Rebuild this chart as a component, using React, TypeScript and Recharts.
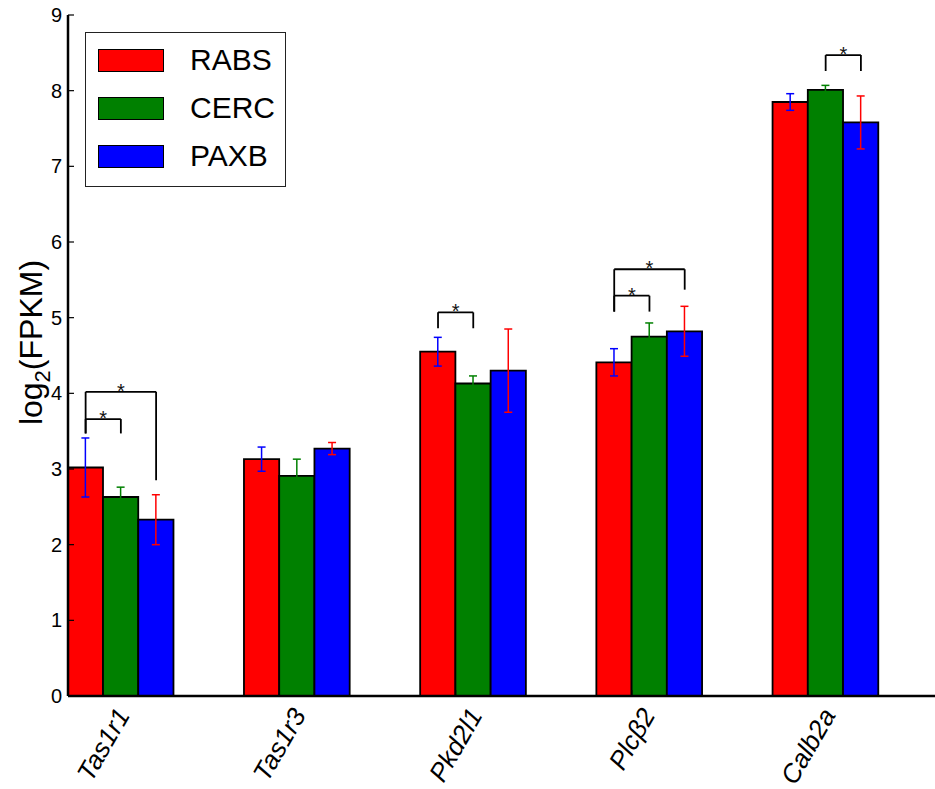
import {
  ComposedChart,
  Bar,
  ErrorBar,
  XAxis,
  YAxis,
  Legend,
  ReferenceLine,
  ReferenceDot,
} from 'recharts';

// log2(FPKM) per gene, mean and error for each population
const genes = ['Tas1r1', 'Tas1r3', 'Pkd2l1', 'Plcβ2', 'Calb2a'];
const rabs = [3.02, 3.13, 4.55, 4.41, 7.85];
const rabsErr = [0.39, 0.16, 0.19, 0.18, 0.11];
const cerc = [2.63, 2.91, 4.13, 4.75, 8.01];
const cercErr = [0.13, 0.22, 0.1, 0.18, 0.06];
const paxb = [2.33, 3.27, 4.3, 4.82, 7.58];
const paxbErr = [0.33, 0.08, 0.55, 0.33, 0.35];
const yTicks = [0, 1, 2, 3, 4, 5, 6, 7, 8, 9];

const seriesNames = ['RABS', 'CERC', 'PAXB'];
const seriesFills = ['#ff0000', '#008000', '#0000ff'];

// significance brackets: gene, series pair, bracket top and leg ends
const bracketGene = [0, 0, 2, 3, 3, 4];
const bracketFrom = [0, 0, 0, 0, 0, 1];
const bracketTo = [1, 2, 1, 1, 2, 2];
const bracketTop = [3.66, 4.02, 5.07, 5.29, 5.64, 8.47];
const bracketLegFrom = [3.47, 3.47, 4.86, 5.08, 5.08, 8.26];
const bracketLegTo = [3.47, 2.85, 4.86, 5.08, 5.37, 8.26];

const FONT = '"Liberation Sans", Arial, Helvetica, sans-serif';
const CHART_W = 960;
const CHART_H = 789;
const MARGIN = { top: 15, right: 11, bottom: 0, left: 8 };
const Y_AXIS_W = 60;
const X_AXIS_H = 93;
const PLOT_W = CHART_W - MARGIN.left - Y_AXIS_W - MARGIN.right;
const BAR_W = 0.2; // bar width in x units (one gene = 1 unit)
const BAR_PX = (PLOT_W * BAR_W) / genes.length;

const data = genes.map((gene, i) => ({
  gene,
  x: i + 1.5 * BAR_W,
  rabs: rabs[i],
  rabsErr: rabsErr[i],
  cerc: cerc[i],
  cercErr: cercErr[i],
  paxb: paxb[i],
  paxbErr: paxbErr[i],
}));

const geneTicks = genes.map((_, i) => i + BAR_W);
const barCenter = (gene: number, series: number) => gene + BAR_W * (series + 0.5);

let measureCtx: CanvasRenderingContext2D | null = null;
const textWidth = (text: string, font: string) => {
  if (!measureCtx) measureCtx = document.createElement('canvas').getContext('2d');
  if (!measureCtx) return text.length * 12;
  measureCtx.font = font;
  return measureCtx.measureText(text).width;
};

const GeneTick = ({ x, y, payload }: any) => {
  const idx = geneTicks.findIndex((t) => Math.abs(t - payload.value) < 1e-6);
  const label = genes[idx] ?? '';
  const size = 26;
  const len = textWidth(label, `italic ${size}px "Liberation Sans"`);
  const boxH = len * Math.sin(Math.PI / 3) + size * 1.15 * 0.5;
  const cy = y + 7 + boxH / 2;
  return (
    <g>
      <line x1={x} x2={x} y1={y} y2={y - 6} stroke="#000" strokeWidth={1.2} />
      <text
        x={x}
        y={cy}
        transform={`rotate(-60 ${x} ${cy})`}
        textAnchor="middle"
        dominantBaseline="central"
        fontStyle="italic"
        fontSize={size}
        fontFamily={FONT}
        fill="#000"
      >
        {label}
      </text>
    </g>
  );
};

const TopTick = ({ x, y }: any) => (
  <line x1={x} x2={x} y1={y} y2={y + 6} stroke="#000" strokeWidth={1.2} />
);

const ValueTick = ({ x, y, payload }: any) => (
  <g>
    <line x1={x + 6} x2={x + 12} y1={y} y2={y} stroke="#000" strokeWidth={1.2} />
    <text x={x} y={y} textAnchor="end" dominantBaseline="central" fontSize={20} fontFamily={FONT} fill="#000">
      {payload.value}
    </text>
  </g>
);

const YLabel = ({ viewBox }: any) => {
  const x = viewBox.x + 34;
  const y = viewBox.y + viewBox.height / 2 - 13;
  return (
    <text x={x} y={y} transform={`rotate(-90 ${x} ${y})`} textAnchor="middle" fontSize={32} fontFamily={FONT} fill="#000">
      log
      <tspan fontSize={22} dy={8}>2</tspan>
      <tspan dy={-8}>(FPKM)</tspan>
    </text>
  );
};

const StarMark = ({ cx, cy }: any) => (
  <text x={cx} y={cy + 6} textAnchor="middle" fontSize={20} fontFamily={FONT} fill="#111">
    *
  </text>
);

const LegendBox = () => (
  <div
    style={{
      border: '1px solid #222',
      width: 201,
      height: 155,
      boxSizing: 'border-box',
      padding: '3px 0 0 12px',
      background: '#fff',
    }}
  >
    {seriesNames.map((name, i) => (
      <div key={name} style={{ display: 'flex', alignItems: 'center', height: 48 }}>
        <span
          style={{
            width: 66,
            height: 23,
            background: seriesFills[i],
            border: '1px solid #000',
            boxSizing: 'border-box',
          }}
        />
        <span style={{ marginLeft: 26, fontSize: 30, fontFamily: FONT, lineHeight: 1, color: '#000' }}>{name}</span>
      </div>
    ))}
  </div>
);

const brackets = bracketGene.flatMap((g, i) => {
  const x1 = barCenter(g, bracketFrom[i]);
  const x2 = barCenter(g, bracketTo[i]);
  const top = bracketTop[i];
  const props = { stroke: '#000', strokeWidth: 1.8, ifOverflow: 'visible' as const };
  return [
    <ReferenceLine key={`bl${i}`} segment={[{ x: x1, y: bracketLegFrom[i] }, { x: x1, y: top }]} {...props} />,
    <ReferenceLine key={`bt${i}`} segment={[{ x: x1, y: top }, { x: x2, y: top }]} {...props} />,
    <ReferenceLine key={`br${i}`} segment={[{ x: x2, y: top }, { x: x2, y: bracketLegTo[i] }]} {...props} />,
    <ReferenceDot key={`bs${i}`} x={(x1 + x2) / 2} y={top} r={0} shape={StarMark} ifOverflow="visible" />,
  ];
});

export default function App() {
  return (
    <div style={{ position: 'fixed', left: 0, top: 0, width: 935, height: 789, overflow: 'hidden', background: '#fff' }}>
      <ComposedChart
        width={CHART_W}
        height={CHART_H}
        data={data}
        margin={MARGIN}
        barGap={0}
        style={{ fontFamily: FONT }}
      >
        <XAxis
          dataKey="x"
          type="number"
          domain={[0, genes.length]}
          ticks={geneTicks}
          interval={0}
          height={X_AXIS_H}
          tickSize={0}
          tickMargin={0}
          tickLine={false}
          tick={(p: any) => <GeneTick {...p} />}
          axisLine={{ stroke: '#000', strokeWidth: 2.5 }}
          allowDataOverflow
        />
        <XAxis
          xAxisId="top"
          orientation="top"
          dataKey="x"
          type="number"
          domain={[0, genes.length]}
          ticks={geneTicks}
          interval={0}
          height={0}
          tickSize={0}
          tickMargin={0}
          tickLine={false}
          tick={(p: any) => <TopTick {...p} />}
          axisLine={{ stroke: '#000', strokeWidth: 2.5 }}
          allowDataOverflow
        />
        <YAxis
          type="number"
          domain={[0, 9]}
          ticks={yTicks}
          interval={0}
          width={Y_AXIS_W}
          tickSize={0}
          tickMargin={6}
          tickLine={false}
          tick={(p: any) => <ValueTick {...p} />}
          axisLine={{ stroke: '#000', strokeWidth: 2.5 }}
          label={{ content: (p: any) => <YLabel {...p} /> }}
          allowDataOverflow
        />
        <Legend
          layout="vertical"
          align="center"
          verticalAlign="middle"
          wrapperStyle={{ left: 85, top: 32, width: 201, height: 155 }}
          content={() => <LegendBox />}
        />
        <Bar dataKey="rabs" name="RABS" fill={seriesFills[0]} stroke="#000" strokeWidth={1.8} barSize={BAR_PX} isAnimationActive={false}>
          <ErrorBar dataKey="rabsErr" width={4} stroke="#0000ff" strokeWidth={1.5} direction="y" isAnimationActive={false} />
        </Bar>
        <Bar dataKey="cerc" name="CERC" fill={seriesFills[1]} stroke="#000" strokeWidth={1.8} barSize={BAR_PX} isAnimationActive={false}>
          <ErrorBar dataKey="cercErr" width={4} stroke="#008000" strokeWidth={1.5} direction="y" isAnimationActive={false} />
        </Bar>
        <Bar dataKey="paxb" name="PAXB" fill={seriesFills[2]} stroke="#000" strokeWidth={1.8} barSize={BAR_PX} isAnimationActive={false}>
          <ErrorBar dataKey="paxbErr" width={4} stroke="#ff0000" strokeWidth={1.5} direction="y" isAnimationActive={false} />
        </Bar>
        {brackets}
      </ComposedChart>
    </div>
  );
}
